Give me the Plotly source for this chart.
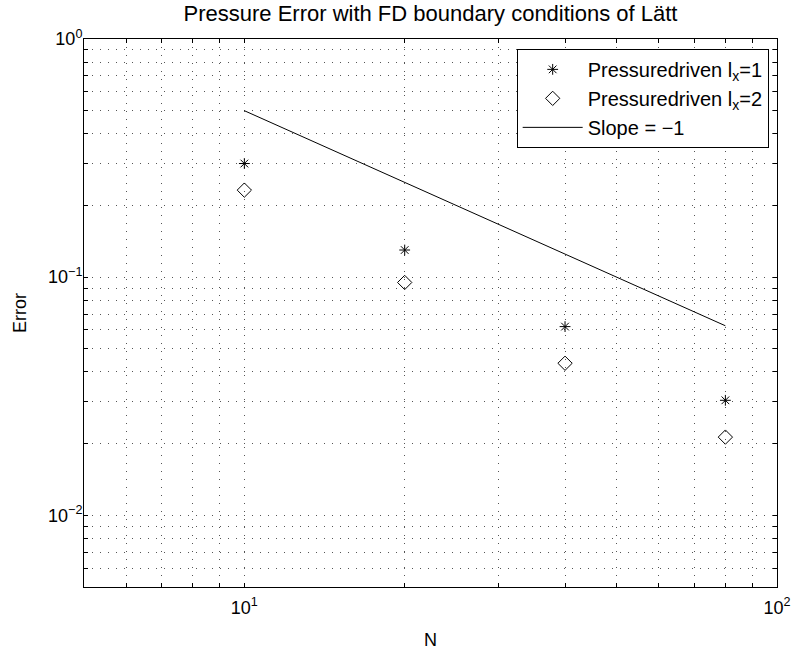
import numpy as np
import plotly.graph_objects as go

N = [10, 20, 40, 80]
err_lx1 = [0.30, 0.130, 0.062, 0.0304]
err_lx2 = [0.232, 0.095, 0.0435, 0.0213]
slope_N = [10, 80]
slope_err = [0.5, 0.0625]

x_tickvals = [5, 6, 7, 8, 9, 10, 20, 30, 40, 50, 60, 70, 80, 90, 100]
x_ticktext = ["", "", "", "", "", "10<sup>1</sup>", "", "", "", "", "", "", "", "", "10<sup>2</sup>"]
y_tickvals = [0.005, 0.006, 0.007, 0.008, 0.009, 0.01, 0.02, 0.03, 0.04, 0.05, 0.06, 0.07, 0.08, 0.09,
              0.1, 0.2, 0.3, 0.4, 0.5, 0.6, 0.7, 0.8, 0.9, 1.0]
y_ticktext = ["" for _ in y_tickvals]
y_ticktext[5] = "10<sup>−2</sup>"
y_ticktext[14] = "10<sup>−1</sup>"
y_ticktext[23] = "10<sup>0</sup>"

FONT = "Liberation Sans, Arial, Helvetica"

fig = go.Figure()
fig.add_trace(go.Scatter(x=N, y=err_lx1, mode="markers", name="Pressuredriven l<sub>x</sub>=1",
                         marker=dict(symbol="asterisk-open", size=9, color="black",
                                     line=dict(color="black", width=1))))
fig.add_trace(go.Scatter(x=N, y=err_lx2, mode="markers", name="Pressuredriven l<sub>x</sub>=2",
                         marker=dict(symbol="diamond-open", size=11, color="black",
                                     line=dict(color="black", width=1))))
fig.add_trace(go.Scatter(x=slope_N, y=slope_err, mode="lines", name="Slope = −1",
                         line=dict(color="black", width=1)))

axis_common = dict(
    type="log", showline=True, linecolor="black", linewidth=1, mirror="ticks",
    ticks="inside", ticklen=4, tickcolor="black", tickwidth=1,
    showgrid=True, gridcolor="#555555", griddash="1px,7px", gridwidth=1,
    zeroline=False, ticklabeloverflow="allow", automargin=False,
    tickfont=dict(family=FONT, size=18, color="black"),
)

fig.update_xaxes(range=[np.log10(5), 2], tickmode="array", tickvals=x_tickvals, ticktext=x_ticktext,
                 ticklabelstandoff=4,
                 title=dict(text="N", font=dict(family=FONT, size=18, color="black"), standoff=16),
                 **axis_common)
fig.update_yaxes(range=[np.log10(0.005), 0], tickmode="array", tickvals=y_tickvals, ticktext=y_ticktext,
                 ticklabelstandoff=-3,
                 title=dict(text="Error", font=dict(family=FONT, size=18, color="black"), standoff=16),
                 **axis_common)

fig.update_layout(
    width=795, height=653,
    margin=dict(l=84, r=18, t=39, b=66),
    paper_bgcolor="white", plot_bgcolor="white",
    title=dict(text="Pressure Error with FD boundary conditions of Lätt",
               font=dict(family=FONT, size=22, color="black"),
               x=(84 + 777) / 2 / 795, xanchor="center", y=1 - 13 / 653, yanchor="middle"),
    legend=dict(x=0.988, y=0.982, xanchor="right", yanchor="top",
                bgcolor="white", bordercolor="black", borderwidth=1, itemwidth=60,
                font=dict(family=FONT, size=20, color="black")),
    font=dict(family=FONT, color="black"),
)

fig.write_html("out.html", config={"displayModeBar": False},
               post_script="document.body.style.margin='0';")
